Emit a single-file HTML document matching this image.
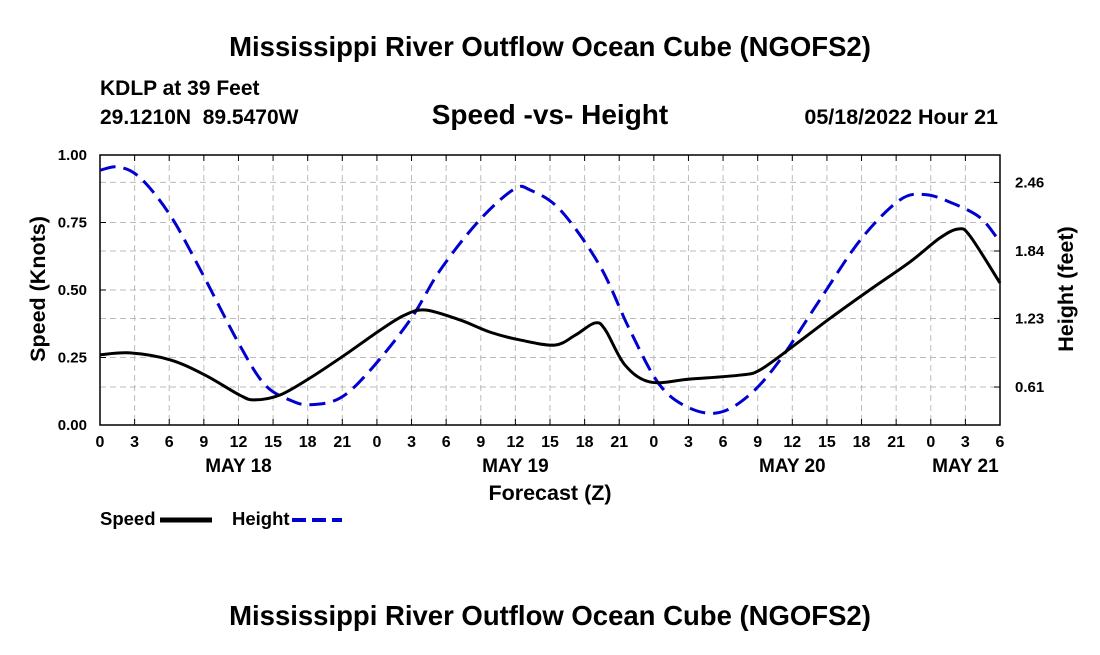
<!DOCTYPE html>
<html><head><meta charset="utf-8"><style>
body{margin:0;background:#fff;width:1100px;height:650px;overflow:hidden;font-family:"Liberation Sans",sans-serif}
svg text{font-family:"Liberation Sans",sans-serif;font-weight:bold;fill:#000}
</style></head><body>
<svg id="c" width="1100" height="650">
<text x="550" y="56" font-size="27.5" text-anchor="middle">Mississippi River Outflow Ocean Cube (NGOFS2)</text>
<text x="100" y="95" font-size="21">KDLP at 39 Feet</text>
<text x="100" y="124" font-size="21" xml:space="preserve">29.1210N  89.5470W</text>
<text x="550" y="124" font-size="28" text-anchor="middle">Speed -vs- Height</text>
<text x="998" y="124" font-size="21.5" text-anchor="end">05/18/2022 Hour 21</text>
<text x="45" y="289" font-size="21.5" text-anchor="middle" transform="rotate(-90 45 289)">Speed (Knots)</text>
<text x="1073" y="289" font-size="21.5" text-anchor="middle" transform="rotate(-90 1073 289)">Height (feet)</text>
<text x="550" y="500" font-size="21.5" text-anchor="middle">Forecast (Z)</text>
<g>
<text x="100" y="525" font-size="18.5">Speed</text>
<line x1="160" y1="520" x2="212" y2="520" stroke="#000" stroke-width="5"/>
<text x="232" y="525" font-size="18.5">Height</text>
<line x1="292" y1="520" x2="342" y2="520" stroke="#00c" stroke-width="4" stroke-dasharray="14,6"/>
</g>
<text x="550" y="625" font-size="27.5" text-anchor="middle">Mississippi River Outflow Ocean Cube (NGOFS2)</text>
<g id="plot"></g>
</svg>
<script>
const speedHours=[0,2.6,6.1,9.1,12.1,13.4,15.6,18.2,21.2,24.3,26.4,28.2,31.2,33.8,36.4,39.4,41.2,42.9,43.8,45.5,47.7,51.1,55.5,57.2,60.2,63.3,66.7,70.2,72.8,74.4,75.4,78];
const speedValues=[0.26,0.267,0.241,0.185,0.111,0.093,0.111,0.174,0.259,0.352,0.407,0.426,0.389,0.344,0.315,0.296,0.333,0.378,0.352,0.222,0.159,0.17,0.185,0.204,0.296,0.396,0.5,0.604,0.693,0.726,0.7,0.526];
const heightHours=[0,1.6,3.5,6.1,8.7,12.1,14.3,16.5,18.2,20.8,23.4,26.9,29.5,32.9,35.9,37.3,39.9,43.3,45.9,48.5,51.1,53.7,56.3,58.9,62.4,65.9,69.3,71.5,73.7,76.3,78];
const heightValues=[2.57,2.6,2.5,2.16,1.67,0.99,0.63,0.49,0.45,0.51,0.76,1.22,1.67,2.12,2.4,2.39,2.21,1.71,1.13,0.63,0.42,0.38,0.54,0.85,1.4,1.94,2.3,2.35,2.28,2.14,1.92];
const speedTicks=[0,0.25,0.5,0.75,1.0];
const heightTicks=[0.61,1.23,1.84,2.46];
const dayLabels=["MAY 18","MAY 19","MAY 20","MAY 21"];
const dayLabelHours=[12,36,60,75];
const X0=100,X1=1000,Y0=155,Y1=425;
const xs=h=>X0+h*(X1-X0)/78;
const ys=v=>Y1-v*(Y1-Y0);
const yh=v=>454.5-v*110.6;
const g=document.getElementById('plot');
const NS='http://www.w3.org/2000/svg';
function mk(t,a){const e=document.createElementNS(NS,t);for(const k in a)e.setAttribute(k,a[k]);g.appendChild(e);return e;}
for(let h=3;h<78;h+=3){const e=mk('line',{x1:xs(h),x2:xs(h),y1:Y0,y2:Y1,stroke:'#bbb','stroke-dasharray':'6,4'});

}
speedTicks.forEach(v=>{if(v>0&&v<1){const e=mk('line',{x1:X0,x2:X1,y1:ys(v),y2:ys(v),stroke:'#bbb','stroke-dasharray':'6,4'});

}});
heightTicks.forEach(v=>{const e=mk('line',{x1:X0,x2:X1,y1:yh(v),y2:yh(v),stroke:'#bbb','stroke-dasharray':'6,4'});

});
const fr=mk('rect',{x:X0,y:Y0,width:X1-X0,height:Y1-Y0,fill:'none',stroke:'#000','stroke-width':1.5});


for(let h=0;h<=78;h+=3){mk('line',{x1:xs(h),x2:xs(h),y1:Y1,y2:Y1-6,stroke:'#000'});mk('line',{x1:xs(h),x2:xs(h),y1:Y0,y2:Y0+6,stroke:'#000'});
const t=mk('text',{x:xs(h),y:Y1+22,'font-size':16,'text-anchor':'middle'});t.textContent=String(h%24);

}
dayLabels.forEach((d,i)=>{const t=mk('text',{x:xs(dayLabelHours[i]),y:472,'font-size':19,'text-anchor':'middle'});t.textContent=d;

});
speedTicks.forEach(v=>{mk('line',{x1:X0,x2:X0+6,y1:ys(v),y2:ys(v),stroke:'#000'});
const t=mk('text',{x:X0-13,y:ys(v)+5,'font-size':15,'text-anchor':'end'});t.textContent=v.toFixed(2);

});
heightTicks.forEach(v=>{mk('line',{x1:X1,x2:X1-6,y1:yh(v),y2:yh(v),stroke:'#000'});
const t=mk('text',{x:X1+15,y:yh(v)+5,'font-size':15});t.textContent=v.toFixed(2);

});
function path(hs,vs,yf){const p=hs.map((h,i)=>[xs(h),yf(vs[i])]);let d='M'+p[0][0]+','+p[0][1];
for(let i=0;i<p.length-1;i++){const a=p[Math.max(0,i-1)],b=p[i],c=p[i+1],e=p[Math.min(p.length-1,i+2)];
d+=' C'+(b[0]+(c[0]-a[0])/6)+','+(b[1]+(c[1]-a[1])/6)+' '+(c[0]-(e[0]-b[0])/6)+','+(c[1]-(e[1]-b[1])/6)+' '+c[0]+','+c[1];}return d;}
const hl=mk('path',{d:path(heightHours,heightValues,yh),fill:'none',stroke:'#0000d0','stroke-width':3,'stroke-dasharray':'16,8'});


const sl=mk('path',{d:path(speedHours,speedValues,ys),fill:'none',stroke:'#000','stroke-width':3});


</script>
</body></html>
